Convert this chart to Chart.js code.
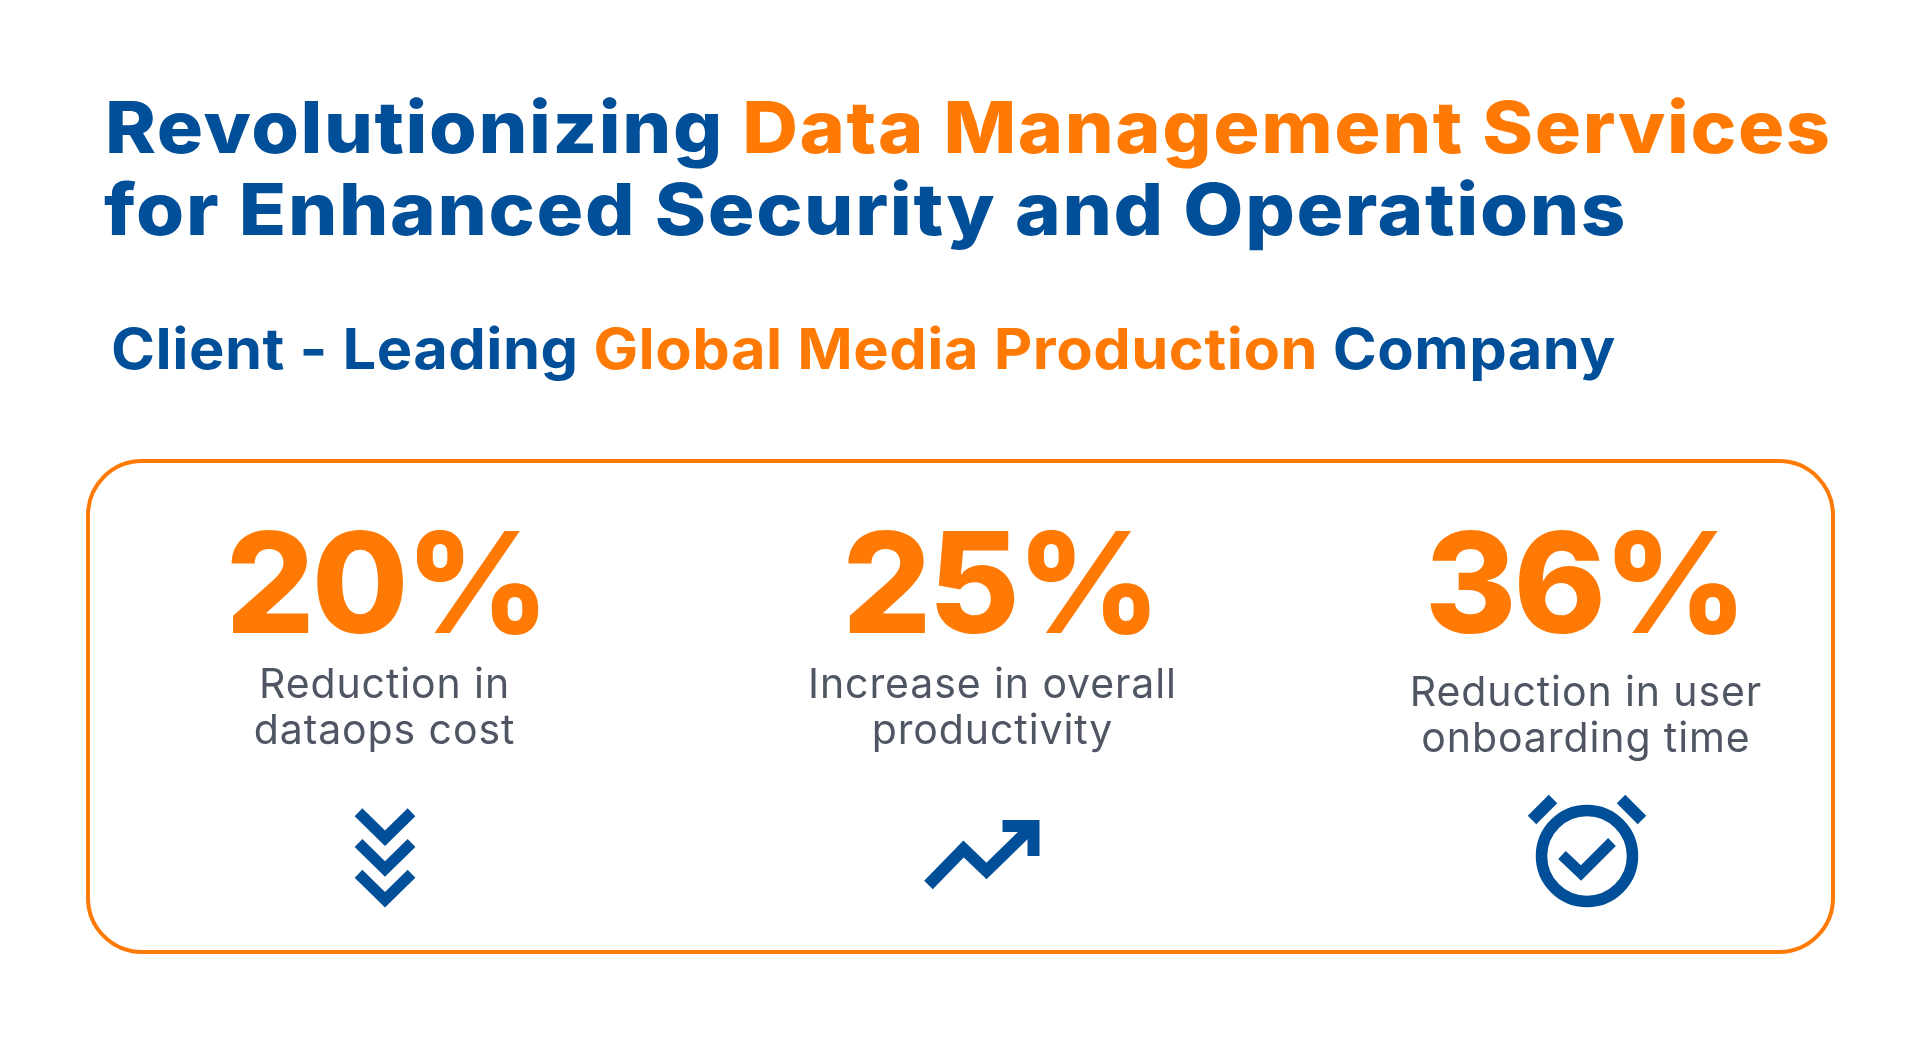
<!DOCTYPE html>
<html>
<head>
<meta charset="utf-8">
<title>Revolutionizing Data Management Services</title>
<script src="https://cdn.jsdelivr.net/npm/chart.js@4"></script>
<style>
  html, body { margin: 0; background: #fff; }
  body { position: relative; width: 1920px; height: 1047px; overflow: hidden; font-family: Inter, sans-serif; color: #004f98; }
  .line { position: absolute; margin: 0; white-space: nowrap; font-weight: 800; transform-origin: left center; }
  .line span { color: #ff7a05; }
  #h1a, #h1b { font-size: 72px; line-height: 82px; letter-spacing: 1.5px; }
  #h1a { left: 105px; top: 86px; transform: scaleX(1.071); }
  #h1b { left: 104px; top: 168px; transform: scaleX(1.081); }
  #sub { left: 111px; top: 314px; font-size: 56px; line-height: 70px; font-weight: 700; letter-spacing: 0.5px; transform: scaleX(1.063); }
  #card { position: absolute; left: 86px; top: 459px; width: 1741px; height: 487px; border: 4px solid #ff7a05; border-radius: 56px; box-sizing: content-box; }
  canvas { position: absolute; left: 0; top: 0; }
</style>
</head>
<body>
<h1 class="line" id="h1a">Revolutionizing <span>Data Management Services</span></h1>
<h1 class="line" id="h1b">for Enhanced Security and Operations</h1>
<h2 class="line" id="sub">Client - Leading <span>Global Media Production</span> Company</h2>
<div id="card"></div>
<canvas id="myChart" width="1920" height="1047"></canvas>
<script>
const metricValues = [20, 25, 36];
const metricColumns = [0, 1, 2];
const captions = [
  ['Reduction in', 'dataops cost'],
  ['Increase in overall', 'productivity'],
  ['Reduction in user', 'onboarding time']
];

const BLUE = '#004f98';
const ORANGE = '#ff7a05';
const GREY = '#4f5563';

function iconCanvas(draw) {
  const c = document.createElement('canvas');
  c.width = 140;
  c.height = 130;
  const g = c.getContext('2d');
  g.translate(70, 65);
  g.strokeStyle = BLUE;
  g.fillStyle = BLUE;
  g.lineJoin = 'miter';
  g.lineCap = 'butt';
  draw(g);
  return c;
}

function polyline(g, pts, w) {
  g.lineWidth = w;
  g.beginPath();
  pts.forEach((p, i) => i ? g.lineTo(p[0], p[1]) : g.moveTo(p[0], p[1]));
  g.stroke();
}

// three chevrons pointing down
const iconDown = iconCanvas(g => {
  [-30.7, 0, 30.7].forEach(dy => {
    polyline(g, [[-26.5, dy - 13], [0, dy + 13], [26.5, dy - 13]], 11);
  });
});

// zigzag arrow going up
const iconUp = iconCanvas(g => {
  polyline(g, [[-57.5, 29], [-22.5, -7], [0.5, 15], [43.5, -27]], 12);
  g.beginPath();
  g.moveTo(16.5, -36); g.lineTo(53.5, -36); g.lineTo(53.5, 0); g.lineTo(41.5, 0);
  g.lineTo(41.5, -24); g.lineTo(16.5, -24);
  g.closePath();
  g.fill();
});

// alarm clock with check
const iconClock = iconCanvas(g => {
  g.lineWidth = 11.5;
  g.beginPath();
  g.arc(0, 0, 45.5, 0, Math.PI * 2);
  g.stroke();
  polyline(g, [[-25, -1], [-6, 17], [25, -14]], 11);
  polyline(g, [[-55, -36], [-34, -57]], 12);
  polyline(g, [[55, -36], [34, -57]], 12);
});

const icons = [iconDown, iconUp, iconClock];

// big numbers and captions hang off the same column scale as the icons
const numberBaseline = 633;
const numberNudge = [1, 14, -2.5];
const captionBaseline = [698, 698, 706];
const captionNudge = [-0.5, 6.5, -1];

const metricText = {
  id: 'metricText',
  afterDatasetsDraw(chart) {
    const { ctx, scales: { x } } = chart;
    ctx.save();
    ctx.textAlign = 'center';
    ctx.textBaseline = 'alphabetic';
    metricValues.forEach((v, i) => {
      const cx = x.getPixelForValue(metricColumns[i]);
      ctx.fillStyle = ORANGE;
      ctx.font = '800 140px Inter';
      ctx.letterSpacing = '-3px';
      ctx.fillText(v + '%', cx + numberNudge[i], numberBaseline);
      ctx.fillStyle = GREY;
      ctx.font = '400 41px Inter';
      ctx.letterSpacing = '0.9px';
      captions[i].forEach((t, j) => {
        ctx.fillText(t, cx + captionNudge[i], captionBaseline[i] + j * 45.5);
      });
    });
    ctx.restore();
  }
};

new Chart(document.getElementById('myChart'), {
  type: 'scatter',
  data: {
    datasets: [{
      label: 'Metrics',
      data: metricColumns.map(c => ({ x: c, y: 0 })),
      pointStyle: icons,
      pointRadius: 40,
      clip: false
    }]
  },
  options: {
    responsive: false,
    animation: false,
    // places the icon row and the outer columns on the page
    layout: { padding: { left: 385, right: 333, top: 856, bottom: 191 } },
    scales: {
      x: { type: 'linear', min: 0, max: 2, display: false },
      y: { min: 0, max: 1, display: false }
    },
    plugins: { legend: { display: false }, tooltip: { enabled: false } }
  },
  plugins: [metricText]
});
</script>
</body>
</html>
